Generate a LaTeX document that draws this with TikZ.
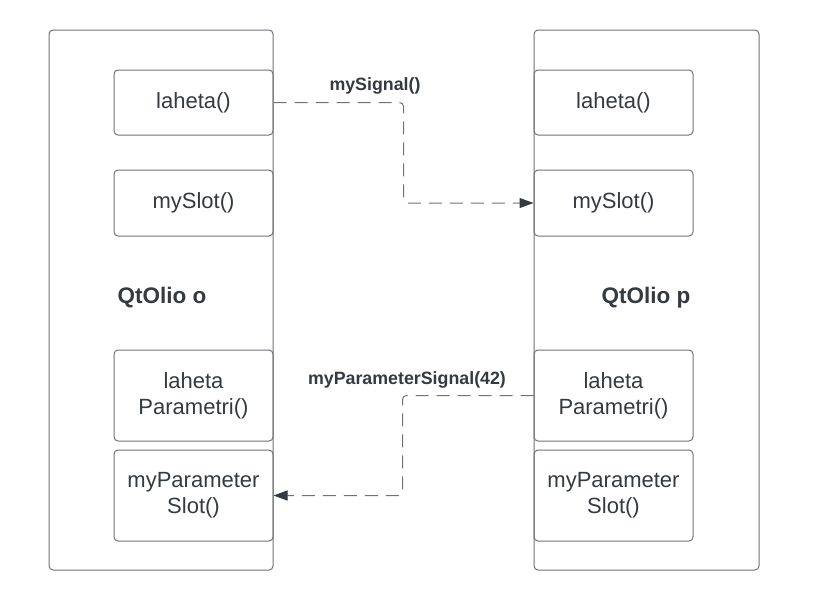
\documentclass[tikz,border=0pt]{standalone}
\usepackage{fontspec}
\setmainfont{Liberation Sans}
\usetikzlibrary{arrows.meta, positioning, calc}

\definecolor{edgegray}{HTML}{6E7176}
\definecolor{inkdark}{HTML}{343A40}

\begin{document}
\begin{tikzpicture}[
        x=1pt, y=-1pt,
        font=\fontsize{22}{26}\selectfont,
        text=inkdark,
        object/.style={draw=edgegray, line width=1pt, rounded corners=4pt, minimum width=224pt, minimum height=540pt, inner sep=0pt},
        method/.style={draw=edgegray, line width=1pt, rounded corners=4pt, align=center, minimum width=159pt, inner sep=0pt},
        title/.style={font=\fontsize{22.5}{26}\selectfont\bfseries},
        signal/.style={draw=edgegray, line width=1pt, dash pattern=on 13pt off 8pt, rounded corners=4pt, -{Triangle[length=14pt, width=10pt, fill=inkdark, color=inkdark]}},
        sigtext/.style={font=\fontsize{17.8}{21}\selectfont\bfseries}
    ]

    \useasboundingbox (0,0) rectangle (834,611);

    % Object o (left)
    \node[object] (objO) at (161,300) {};
    \node[method, minimum height=65pt] (lahetaO) at (193.5,102.5) {laheta()};
    \node[method, minimum height=66pt] (slotO) at (193.5,203) {mySlot()};
    \node[title] (nameO) at (162,298) {QtOlio o};
    \node[method, minimum height=91pt] (lahetaParO) at (193.5,395.5) {laheta\\ Parametri()};
    \node[method, minimum height=91pt] (slotParO) at (193.5,495.5) {myParameter\\ Slot()};

    % Object p (right)
    \node[object, minimum width=225pt] (objP) at (646.5,300) {};
    \node[method, minimum height=65pt] (lahetaP) at (613.5,102.5) {laheta()};
    \node[method, minimum height=66pt] (slotP) at (613.5,203) {mySlot()};
    \node[title] (nameP) at (646,298) {QtOlio p};
    \node[method, minimum height=91pt] (lahetaParP) at (613.5,395.5) {laheta\\ Parametri()};
    \node[method, minimum height=91pt] (slotParP) at (613.5,495.5) {myParameter\\ Slot()};

    % Signal connections
    \draw[signal] (lahetaO.east) -- ++(130,0) |- (slotP.west);
    \node[sigtext] (sigA) at (375,86) {mySignal()};

    \draw[signal] (lahetaParP.west) -- ++(-131,0) |- (slotParO.east);
    \node[sigtext] (sigB) at (407,380) {myParameterSignal(42)};

\end{tikzpicture}
\end{document}
